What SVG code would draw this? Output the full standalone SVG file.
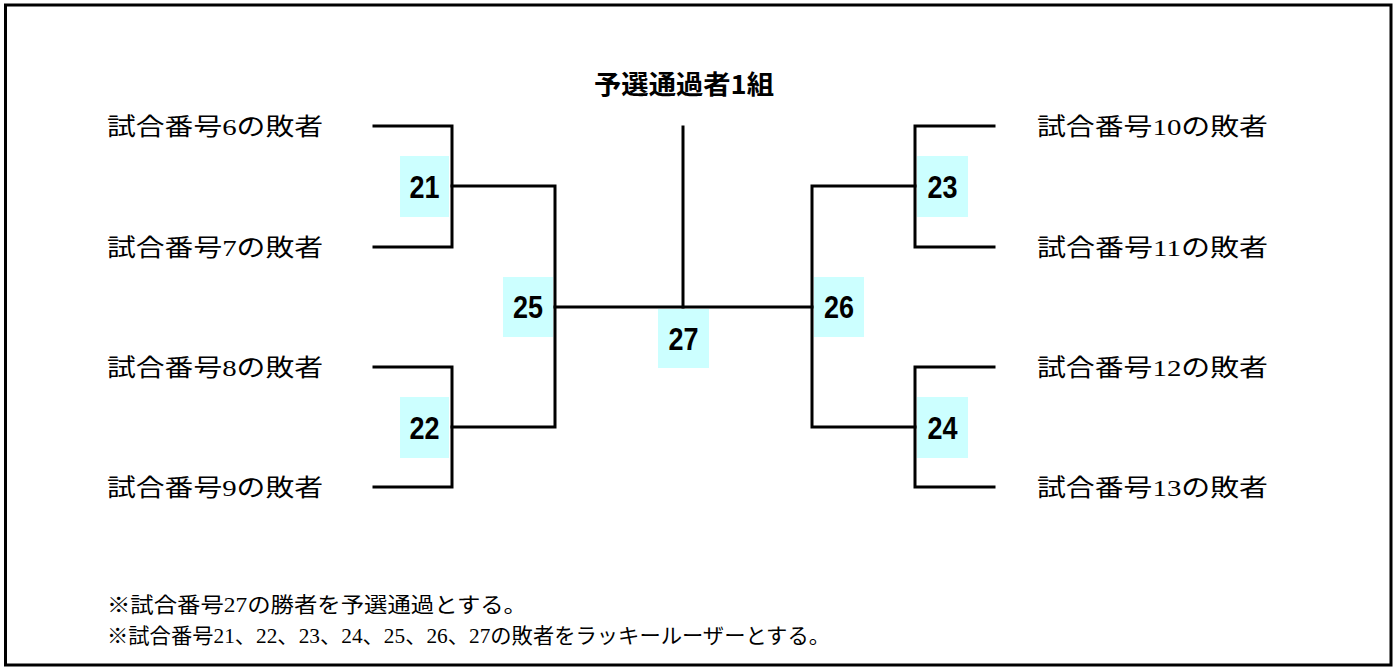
<svg xmlns="http://www.w3.org/2000/svg" width="1400" height="668" viewBox="0 0 1400 668">
<style>
.frame{fill:none;stroke:#000;stroke-width:3}
.ln{fill:none;stroke:#000;stroke-width:3;stroke-linejoin:miter;stroke-linecap:square}
.box{fill:#CCFFFF}
.num{font-family:"Liberation Sans",Arial,sans-serif;font-weight:bold;font-size:31px;fill:#000;text-anchor:middle}
.lbl{font-family:"Liberation Serif","Noto Sans CJK JP",serif;font-size:24px;fill:#000}
.title{font-family:"Noto Sans CJK JP",sans-serif;font-weight:bold;font-size:26px;fill:#000;text-anchor:middle}
.note{font-family:"Liberation Serif","Noto Sans CJK JP",serif;font-size:21px;fill:#000}
</style>
<rect width="1400" height="668" fill="#fff"/>
<rect class="frame" x="5.5" y="5" width="1385.5" height="660"/>

<g id="connectors">
<path class="ln" d="M374,126 H452 V247 H374"/>
<path class="ln" d="M374,367 H452 V487 H374"/>
<path class="ln" d="M452,186 H555 V427 H452"/>
<path class="ln" d="M555,307 H812"/>
<path class="ln" d="M683,127 V307"/>
<path class="ln" d="M994,126 H915 V247 H994"/>
<path class="ln" d="M994,367 H915 V487 H994"/>
<path class="ln" d="M915,186 H812 V427 H915"/>
</g>

<g id="title"><text class="title" x="684" y="94" textLength="180" lengthAdjust="spacingAndGlyphs">予選通過者1組</text></g>

<g id="entrant-6"><text class="lbl" x="107" y="135" textLength="216" lengthAdjust="spacingAndGlyphs">試合番号6の敗者</text></g>
<g id="entrant-7"><text class="lbl" x="107" y="256" textLength="216" lengthAdjust="spacingAndGlyphs">試合番号7の敗者</text></g>
<g id="entrant-8"><text class="lbl" x="107" y="376" textLength="216" lengthAdjust="spacingAndGlyphs">試合番号8の敗者</text></g>
<g id="entrant-9"><text class="lbl" x="107" y="496" textLength="216" lengthAdjust="spacingAndGlyphs">試合番号9の敗者</text></g>
<g id="entrant-10"><text class="lbl" x="1037" y="135" textLength="231" lengthAdjust="spacingAndGlyphs">試合番号10の敗者</text></g>
<g id="entrant-11"><text class="lbl" x="1037" y="256" textLength="231" lengthAdjust="spacingAndGlyphs">試合番号11の敗者</text></g>
<g id="entrant-12"><text class="lbl" x="1037" y="376" textLength="231" lengthAdjust="spacingAndGlyphs">試合番号12の敗者</text></g>
<g id="entrant-13"><text class="lbl" x="1037" y="496" textLength="231" lengthAdjust="spacingAndGlyphs">試合番号13の敗者</text></g>

<g id="match-21"><rect class="box" x="400" y="156" width="49" height="61"/><text class="num" x="424.5" y="198" textLength="30" lengthAdjust="spacingAndGlyphs">21</text></g>
<g id="match-22"><rect class="box" x="400" y="397" width="49" height="61"/><text class="num" x="424.5" y="439" textLength="30" lengthAdjust="spacingAndGlyphs">22</text></g>
<g id="match-25"><rect class="box" x="503" y="277" width="50" height="60"/><text class="num" x="528" y="318" textLength="30" lengthAdjust="spacingAndGlyphs">25</text></g>
<g id="match-27"><rect class="box" x="658" y="309" width="51" height="59"/><text class="num" x="683.5" y="350" textLength="30" lengthAdjust="spacingAndGlyphs">27</text></g>
<g id="match-26"><rect class="box" x="814" y="277" width="50" height="60"/><text class="num" x="839" y="318" textLength="30" lengthAdjust="spacingAndGlyphs">26</text></g>
<g id="match-23"><rect class="box" x="917" y="156" width="51" height="61"/><text class="num" x="942.5" y="198" textLength="30" lengthAdjust="spacingAndGlyphs">23</text></g>
<g id="match-24"><rect class="box" x="917" y="397" width="51" height="61"/><text class="num" x="942.5" y="439" textLength="30" lengthAdjust="spacingAndGlyphs">24</text></g>

<g id="notes">
<text class="note" x="107" y="612" textLength="420" lengthAdjust="spacingAndGlyphs">※試合番号27の勝者を予選通過とする。</text>
<text class="note" x="107" y="643" textLength="723" lengthAdjust="spacingAndGlyphs">※試合番号21、22、23、24、25、26、27の敗者をラッキールーザーとする。</text>
</g>
</svg>
